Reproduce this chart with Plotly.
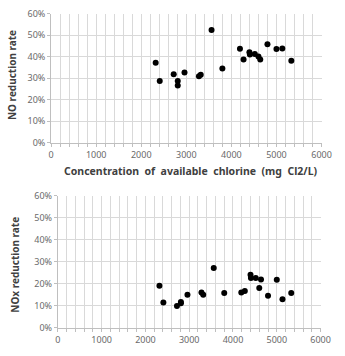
import plotly.graph_objects as go

conc = [2320, 2410, 2720, 2810, 2810, 2960, 3280, 3320, 3560, 3800, 4190,
        4270, 4400, 4410, 4520, 4600, 4640, 4800, 5000, 5130, 5330]
no_rate = [37.2, 28.7, 31.9, 28.7, 26.7, 32.7, 30.9, 31.6, 52.4, 34.6, 43.7,
           38.7, 42.1, 41.0, 41.3, 40.1, 38.7, 45.8, 43.6, 43.9, 38.1]
nox_rate = [19.1, 11.5, 9.9, 11.7, 11.2, 15.0, 16.1, 15.0, 27.2, 15.8, 16.1,
            16.8, 24.1, 22.6, 22.6, 18.1, 22.0, 14.6, 21.9, 13.0, 15.8]
x_ticks = [0, 1000, 2000, 3000, 4000, 5000, 6000]
y_ticks = [0, 10, 20, 30, 40, 50, 60]
y_labels = [f"{v}%" for v in y_ticks]

W, H = 345, 356
FONT = "Noto Sans"
TICKC = "#6a6a6a"
GRID = "#d9d9d9"
AXC = "#bfbfbf"

fig = go.Figure()
marker = dict(color="black", size=6)
fig.add_trace(go.Scatter(x=conc, y=no_rate, mode="markers",
                         marker=marker, xaxis="x", yaxis="y", showlegend=False))
fig.add_trace(go.Scatter(x=conc, y=nox_rate, mode="markers",
                         marker=marker, xaxis="x2", yaxis="y2", showlegend=False))

def xax(dom, anchor):
    return dict(domain=dom, anchor=anchor, range=[0, 6000], tickvals=x_ticks,
                showgrid=True, gridcolor=GRID, gridwidth=1,
                minor=dict(dtick=200, showgrid=True, gridcolor=GRID, gridwidth=1,
                           ticks="outside", ticklen=3, tickcolor=AXC),
                showline=True, linecolor=AXC, zeroline=False,
                ticks="outside", ticklen=3, tickcolor=AXC,
                tickfont=dict(family=FONT, size=9, color=TICKC), fixedrange=True)

def yax(dom, anchor):
    return dict(domain=dom, anchor=anchor, range=[0, 60], tickvals=y_ticks,
                ticktext=y_labels, showgrid=True, gridcolor=GRID, gridwidth=1,
                showline=True, linecolor=AXC, zeroline=False,
                ticks="outside", ticklen=3, tickcolor=AXC,
                tickfont=dict(family=FONT, size=9, color=TICKC), fixedrange=True)

fig.update_layout(
    width=W, height=H, margin=dict(l=0, r=0, t=0, b=0),
    paper_bgcolor="white", plot_bgcolor="white",
    xaxis=xax([50 / W, 331 / W], "y"),
    yaxis=yax([1 - 141 / H, 1 - 7 / H], "x"),
    xaxis2=xax([57 / W, 330 / W], "y2"),
    yaxis2=yax([1 - 333 / H, 1 - 196 / H], "x2"),
    annotations=[
        dict(text="<b>NO reduction rate</b>", x=10 / W, y=1 - 71 / H, xref="paper", yref="paper",
             xanchor="center", yanchor="middle",
             textangle=-90, showarrow=False, font=dict(family=FONT, size=10, color="#404040")),
        dict(text="<b>NOx reduction rate</b>", x=13 / W, y=1 - 268 / H, xref="paper", yref="paper",
             xanchor="center", yanchor="middle",
             textangle=-90, showarrow=False, font=dict(family=FONT, size=10, color="#404040")),
        dict(text="<b>Concentration  of  available  chlorine  (mg  Cl2/L)</b>", x=195 / W, y=1 - 170 / H,
             xref="paper", yref="paper", xanchor="center", yanchor="middle", showarrow=False,
             font=dict(family=FONT, size=10.5, color="#404040")),
    ],
)

fig.write_html("out.html")
